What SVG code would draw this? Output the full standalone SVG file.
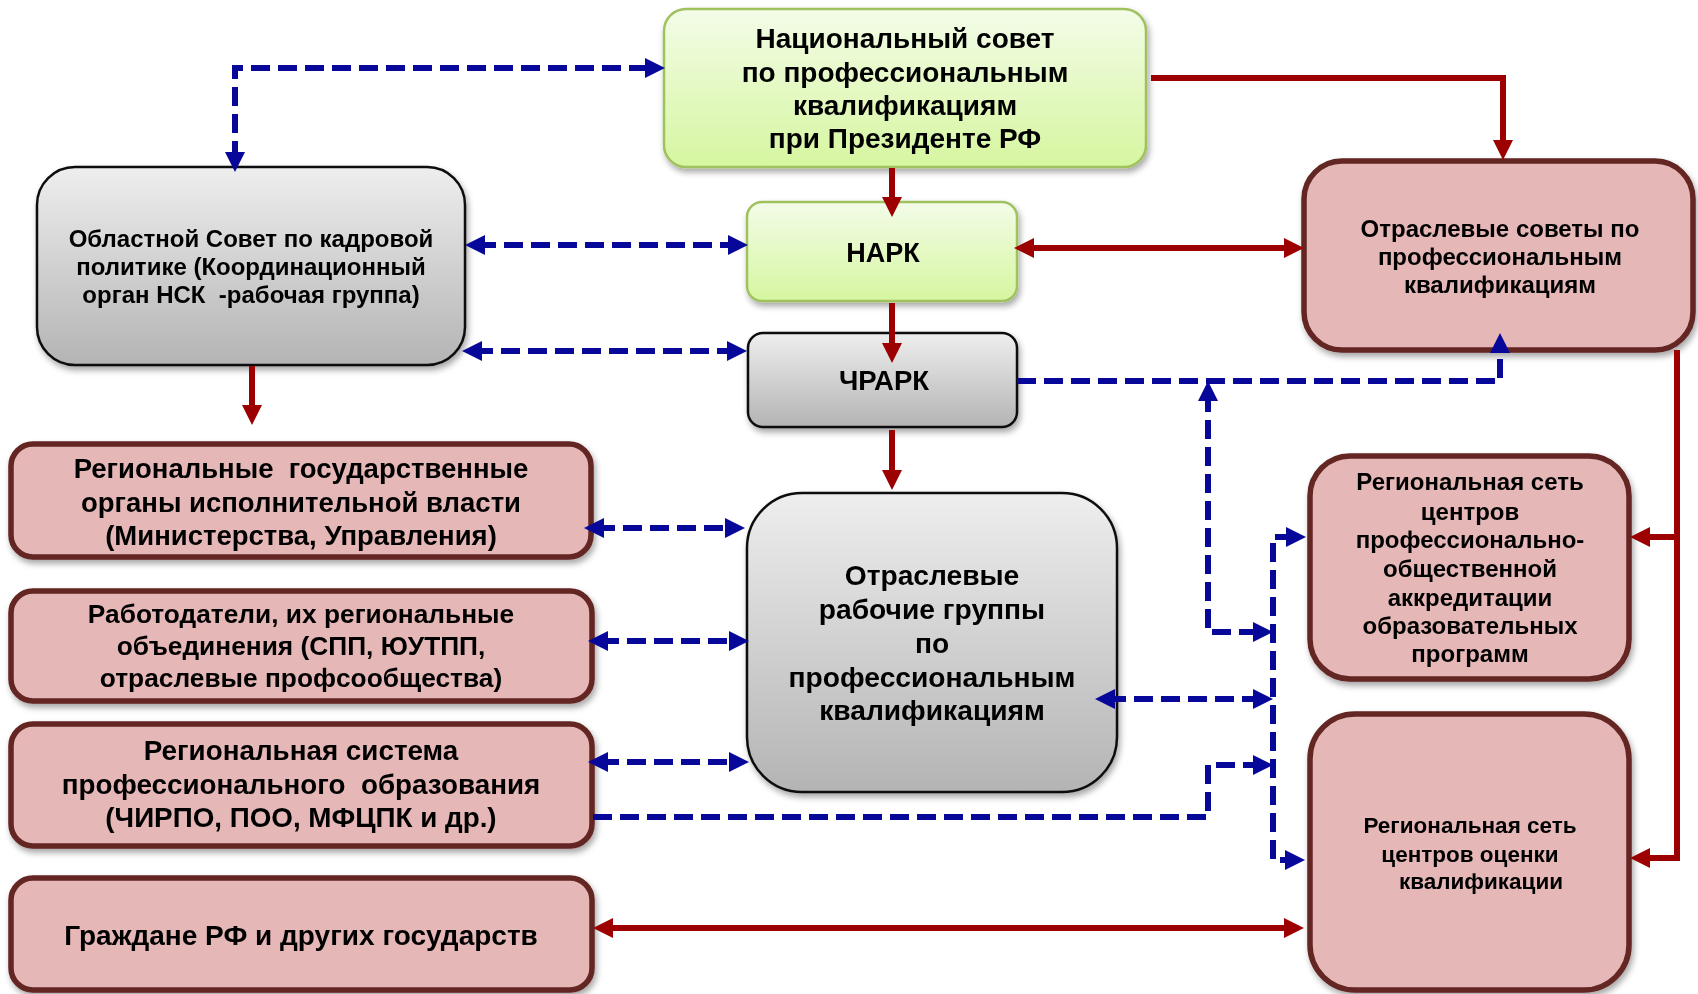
<svg xmlns="http://www.w3.org/2000/svg" width="1698" height="994" viewBox="0 0 1698 994">
<defs>
<linearGradient id="gGreen" x1="0" y1="0" x2="0" y2="1">
<stop offset="0" stop-color="#f3fce8"/>
<stop offset="1" stop-color="#d6f6a0"/>
</linearGradient>
<linearGradient id="gGray" x1="0" y1="0" x2="0" y2="1">
<stop offset="0" stop-color="#eeeeee"/>
<stop offset="1" stop-color="#b4b4b4"/>
</linearGradient>
<filter id="sh" x="-10%" y="-10%" width="125%" height="130%">
<feDropShadow dx="2" dy="4" stdDeviation="3" flood-color="#000" flood-opacity="0.35"/>
</filter>
<marker id="aR" viewBox="0 0 20 20" markerWidth="20" markerHeight="20" markerUnits="userSpaceOnUse" refX="8" refY="10" orient="auto-start-reverse">
<path d="M0,0 L20,10 L0,20 z" fill="#9c0000"/>
</marker>
<marker id="aB" viewBox="0 0 20 20" markerWidth="20" markerHeight="20" markerUnits="userSpaceOnUse" refX="8" refY="10" orient="auto-start-reverse">
<path d="M0,0 L20,10 L0,20 z" fill="#07079a"/>
</marker>
</defs>
<style>
.green{fill:url(#gGreen);stroke:#9fc25f;stroke-width:2.5}
.gray{fill:url(#gGray);stroke:#111;stroke-width:2.5}
.pink{fill:#e6b7b7;stroke:#632523;stroke-width:5.5}
.box{filter:url(#sh)}
text{font-family:"Liberation Sans",Arial,sans-serif;font-weight:bold;fill:#000;text-anchor:middle}
.red{fill:none;stroke:#9c0000;stroke-width:6}
.blue{fill:none;stroke:#07079a;stroke-width:6;stroke-dasharray:19 8}
</style>

<g id="nc" class="box">
<rect class="green" x="664" y="9" width="482" height="158" rx="22"/>
<text font-size="28"><tspan x="905" y="48">Национальный совет</tspan><tspan x="905" y="82">по профессиональным</tspan><tspan x="905" y="115">квалификациям</tspan><tspan x="905" y="148">при Президенте РФ</tspan></text>
</g>

<g id="nark" class="box">
<rect class="green" x="747" y="202" width="270" height="99" rx="15"/>
<text font-size="27" x="883" y="262">НАРК</text>
</g>

<g id="chrark" class="box">
<rect class="gray" x="748" y="333" width="269" height="94" rx="15"/>
<text font-size="27.5" x="884" y="390">ЧРАРК</text>
</g>

<g id="oblast" class="box">
<rect class="gray" x="37" y="167" width="428" height="198" rx="38"/>
<text font-size="24" xml:space="preserve"><tspan x="251" y="247">Областной Совет по кадровой</tspan><tspan x="251" y="275">политике (Координационный</tspan><tspan x="251" y="303">орган НСК  -рабочая группа)</tspan></text>
</g>

<g id="sovety" class="box">
<rect class="pink" x="1304" y="161" width="389" height="189" rx="38"/>
<text font-size="24"><tspan x="1500" y="237">Отраслевые советы по</tspan><tspan x="1500" y="265">профессиональным</tspan><tspan x="1500" y="293">квалификациям</tspan></text>
</g>

<g id="organy" class="box">
<rect class="pink" x="11" y="444" width="580" height="113" rx="22"/>
<text font-size="27.5" xml:space="preserve"><tspan x="301" y="478">Региональные  государственные</tspan><tspan x="301" y="512">органы исполнительной власти</tspan><tspan x="301" y="545">(Министерства, Управления)</tspan></text>
</g>

<g id="rabotodateli" class="box">
<rect class="pink" x="11" y="591" width="581" height="110" rx="22"/>
<text font-size="26.3"><tspan x="301" y="623">Работодатели, их региональные</tspan><tspan x="301" y="655">объединения (СПП, ЮУТПП,</tspan><tspan x="301" y="687">отраслевые профсообщества)</tspan></text>
</g>

<g id="sistema" class="box">
<rect class="pink" x="11" y="724" width="581" height="122" rx="22"/>
<text font-size="27.8" xml:space="preserve"><tspan x="301" y="760">Региональная система</tspan><tspan x="301" y="794">профессионального  образования</tspan><tspan x="301" y="827">(ЧИРПО, ПОО, МФЦПК и др.)</tspan></text>
</g>

<g id="grazhdane" class="box">
<rect class="pink" x="11" y="878" width="581" height="112" rx="22"/>
<text font-size="28" x="301" y="945">Граждане РФ и других государств</text>
</g>

<g id="org" class="box">
<rect class="gray" x="747" y="493" width="370" height="299" rx="55"/>
<text font-size="28.2"><tspan x="932" y="585">Отраслевые</tspan><tspan x="932" y="619">рабочие группы</tspan><tspan x="932" y="653">по</tspan><tspan x="932" y="687">профессиональным</tspan><tspan x="932" y="720">квалификациям</tspan></text>
</g>

<g id="poa" class="box">
<rect class="pink" x="1310" y="456" width="319" height="223" rx="40"/>
<text font-size="24"><tspan x="1470" y="490">Региональная сеть</tspan><tspan x="1470" y="520">центров</tspan><tspan x="1470" y="548">профессионально-</tspan><tspan x="1470" y="577">общественной</tspan><tspan x="1470" y="606">аккредитации</tspan><tspan x="1470" y="634">образовательных</tspan><tspan x="1470" y="662">программ</tspan></text>
</g>

<g id="ocenka" class="box">
<rect class="pink" x="1310" y="714" width="319" height="276" rx="45"/>
<text font-size="22.5"><tspan x="1470" y="833">Региональная сеть</tspan><tspan x="1470" y="862">центров оценки</tspan><tspan x="1481" y="889">квалификации</tspan></text>
</g>

<g id="connectors">
<path class="red" d="M892,168 V205" marker-end="url(#aR)"/>
<path class="red" d="M892,303 V351" marker-end="url(#aR)"/>
<path class="red" d="M892,430 V478" marker-end="url(#aR)"/>
<path class="red" d="M252,366 V413" marker-end="url(#aR)"/>
<path class="red" d="M1151,78 H1503 V148" marker-end="url(#aR)"/>
<path class="red" d="M1026,248 H1292" marker-start="url(#aR)" marker-end="url(#aR)"/>
<path class="red" d="M1677,350 V858 H1642" marker-end="url(#aR)"/>
<path class="red" d="M1677,537 H1642" marker-end="url(#aR)"/>
<path class="red" d="M605,928 H1292" marker-start="url(#aR)" marker-end="url(#aR)"/>

<path class="blue" d="M235,160 V68 H653" marker-start="url(#aB)" marker-end="url(#aB)"/>
<path class="blue" d="M477,245 H736" marker-start="url(#aB)" marker-end="url(#aB)"/>
<path class="blue" d="M474,351 H735" marker-start="url(#aB)" marker-end="url(#aB)"/>
<path class="blue" d="M1017,381 H1500 V345" marker-end="url(#aB)"/>
<path class="blue" d="M1208,393 V632 H1261" marker-start="url(#aB)" marker-end="url(#aB)"/>
<path class="blue" d="M1294,537 H1273 V860 H1293" marker-start="url(#aB)" marker-end="url(#aB)"/>
<path class="blue" d="M1107,699 H1261" marker-start="url(#aB)" marker-end="url(#aB)"/>
<path class="blue" d="M593,817 H1208 V765 H1261" marker-end="url(#aB)"/>
<path class="blue" d="M596,528 H733" marker-start="url(#aB)" marker-end="url(#aB)"/>
<path class="blue" d="M600,641 H737" marker-start="url(#aB)" marker-end="url(#aB)"/>
<path class="blue" d="M600,762 H737" marker-start="url(#aB)" marker-end="url(#aB)"/>
</g>
</svg>
